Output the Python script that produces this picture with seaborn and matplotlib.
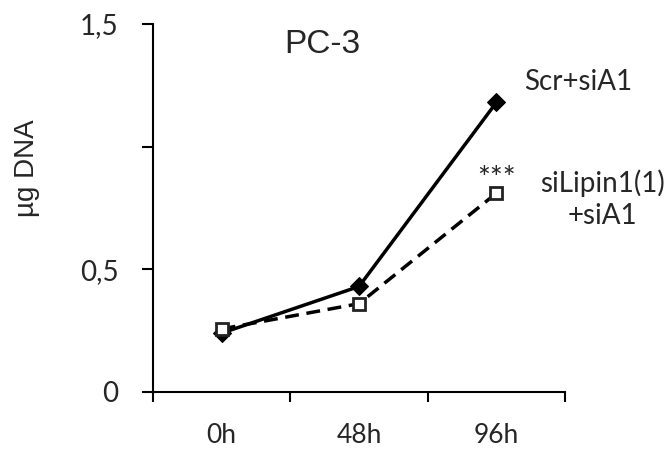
import numpy as np
import pandas as pd
import seaborn as sns
import matplotlib.pyplot as plt
from matplotlib.ticker import FixedLocator

# values
times = ["0h", "48h", "96h"]
scr_sia1 = [0.24, 0.43, 1.18]
silipin_sia1 = [0.257, 0.36, 0.81]

sns.set_style("white")
plt.rcParams['font.family'] = ['Lato', 'DejaVu Sans']

df = pd.DataFrame({
    "pos": list(range(len(times))) * 2,
    "dna": scr_sia1 + silipin_sia1,
    "cond": ["Scr+siA1"] * 3 + ["siLipin1(1)+siA1"] * 3,
})

fig = plt.figure(figsize=(6.7, 4.61), dpi=100)
ax = fig.add_axes([0.2284, 0.1497, 0.6149, 0.7983])

sns.lineplot(data=df[df["cond"] == "Scr+siA1"], x="pos", y="dna",
             color="black", lw=2.5, marker="D", markersize=9.5,
             markeredgecolor="black", ax=ax)
sns.lineplot(data=df[df["cond"] != "Scr+siA1"], x="pos", y="dna",
             color="black", lw=2.5, linestyle=(0, (4, 2.2)), marker="s",
             markersize=9, markerfacecolor="white", markeredgecolor="#222222",
             markeredgewidth=2, ax=ax)

ax.set_xlim(-0.5, 2.5)
ax.set_ylim(0, 1.5)

# x: ticks at category boundaries, labels at centres
ax.xaxis.set_major_locator(FixedLocator([-0.5, 0.5, 1.5, 2.5]))
ax.xaxis.set_minor_locator(FixedLocator([0, 1, 2]))
ax.set_xticklabels([])
ax.set_xticklabels(times, minor=True)
ax.tick_params(axis="x", which="major", bottom=True, direction="out", length=7,
               width=1.5, color="black")
ax.tick_params(axis="x", which="minor", bottom=True, length=0, pad=22, labelsize=19)

ax.set_yticks([0, 0.5, 1.0, 1.5])
ax.set_yticklabels(["0", "0,5", "", "1,5"])
ax.tick_params(axis="y", left=True, direction="out", length=8, width=1.5,
               color="black", labelsize=20, pad=17)

for s in ["top", "right"]:
    ax.spines[s].set_visible(False)
for s in ["left", "bottom"]:
    ax.spines[s].set_color("black")
    ax.spines[s].set_linewidth(1.5)

ax.set_xlabel("")
ax.set_ylabel("")
fig.text(27 / 670, 1 - 168 / 461, "µg DNA", rotation=90, fontsize=20,
         family=["Liberation Sans", "DejaVu Sans"], ha="center", va="center")

ax.text(0.73, 1.415, "PC-3", fontsize=24, family="Liberation Sans",
        ha="center", va="center")
ax.text(2.2, 1.264, "Scr+siA1", fontsize=20, ha="left", va="center", clip_on=False)
ax.text(2.77, 0.787, "siLipin1(1)\n+siA1", fontsize=20, ha="center", va="center",
        linespacing=1.3, clip_on=False)
ax.text(2.0, 0.87, "***", fontsize=22, ha="center", va="center")

fig.savefig("out.png", dpi=100)
